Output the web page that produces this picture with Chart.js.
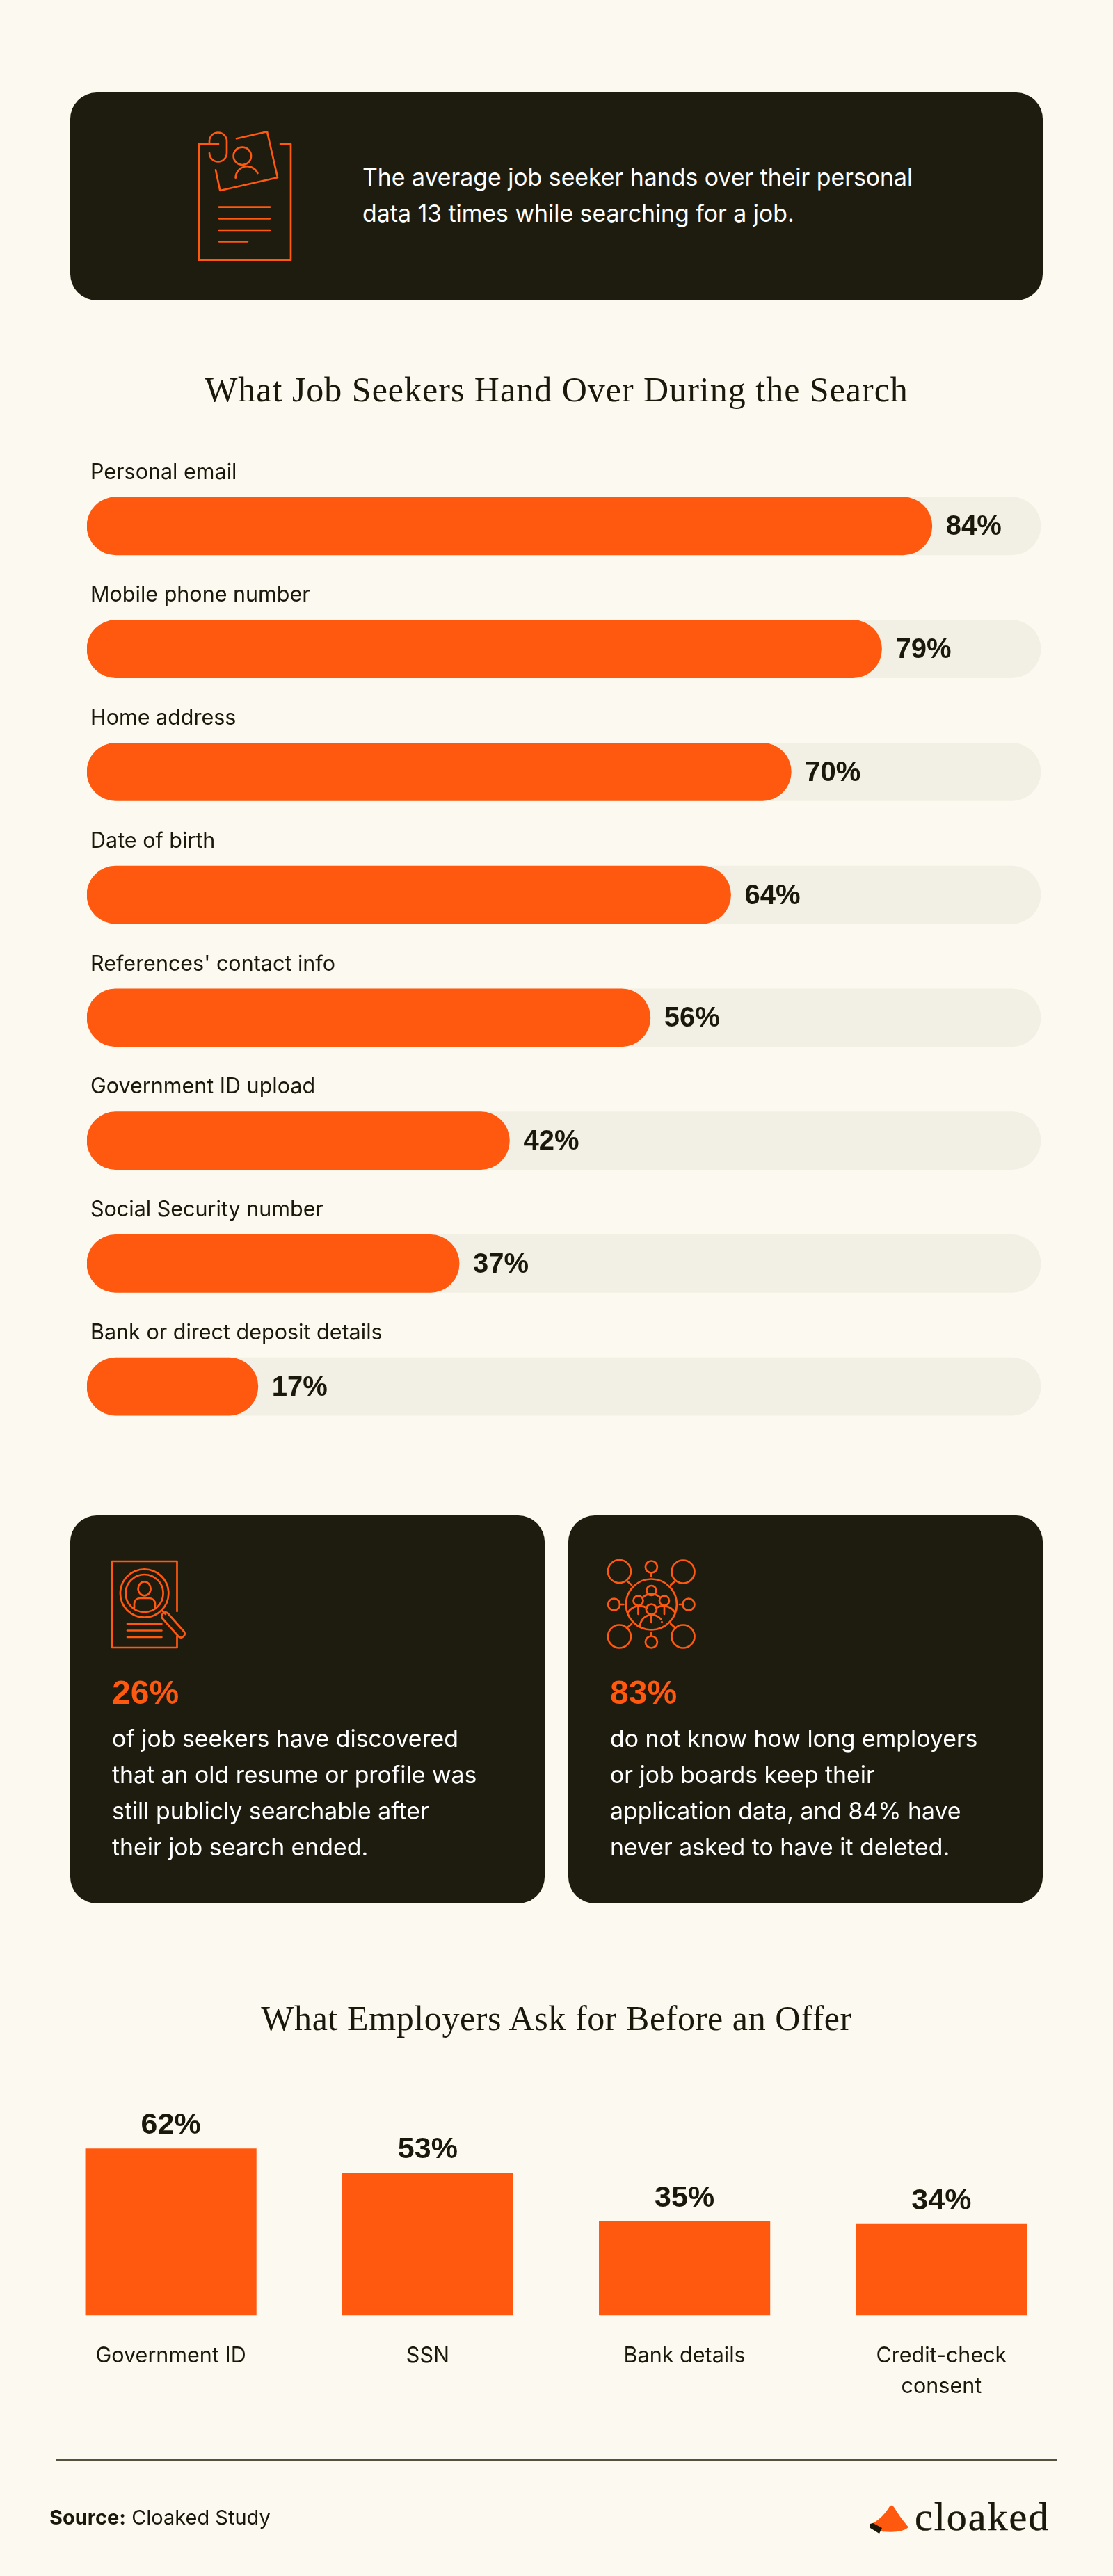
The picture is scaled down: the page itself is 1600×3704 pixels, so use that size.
<!DOCTYPE html>
<html lang="en">
<head>
    <meta charset="UTF-8">
    <title>What Job Seekers Hand Over</title>
    <script src="https://cdn.jsdelivr.net/npm/chart.js"></script>
    <style>
        html, body { margin: 0; padding: 0; background: #fcf9f1; }
        #page { position: relative; width: 1600px; height: 3704px; overflow: hidden; background: #fcf9f1; color: #1a170b; font-family: Inter, sans-serif; }
        #page > * { position: absolute; }
        .card { background: #1e1b0f; border-radius: 38px; }
        .title { left: 0; width: 1600px; text-align: center; font-family: 'Liberation Serif', serif; font-size: 50px; line-height: 60px; white-space: nowrap; }
        .copy { color: #fff; font-size: 33.8px; line-height: 52px; white-space: pre; }
        .big { color: #ff580f; font-family: 'Liberation Sans', sans-serif; font-size: 48px; line-height: 56px; font-weight: bold; }
        .icon { fill: none; stroke: #ff580f; stroke-width: 2.7; stroke-linecap: round; stroke-linejoin: round; }
        canvas { display: block; }
    </style>
</head>
<body>
<div id="page">
    <div class="card" style="left:101px;top:133px;width:1398px;height:299px"></div>
    <svg class="icon" style="left:260px;top:170px" width="200" height="220" viewBox="0 0 200 220">
        <path d="M54 37H26V204H158V37H143"/>
        <path d="M41 37V33A12.5 12.5 0 0 1 66 33V50A12.5 12.5 0 0 1 41 50"/>
        <path d="M80 29.3L124 19.3L139 85.3L56.3 104L50 74.3"/>
        <circle cx="88.3" cy="54.3" r="12.7"/>
        <path d="M78.7 85.7A16.5 16.5 0 0 1 110.3 79"/>
        <path d="M55 127.7H128M55 144.3H128M55 161H128M55 177.3H96"/>
    </svg>
    <div class="copy" style="left:521px;top:229px">The average job seeker hands over their personal
data 13 times while searching for a job.</div>

    <div class="title" style="top:530px;letter-spacing:1px">What Job Seekers Hand Over During the Search</div>
    <canvas id="seekerChart" width="1371" height="1434" style="left:125px;top:648px"></canvas>

    <div class="card" style="left:101px;top:2179px;width:682px;height:558px"></div>
    <div class="card" style="left:817px;top:2179px;width:682px;height:558px"></div>
    <svg class="icon" style="left:0;top:0" width="1600" height="3704" viewBox="0 0 1600 3704">
        <path d="M254.5 2317V2245H161V2369H254.5V2353"/>
        <circle cx="207.6" cy="2291" r="34.7"/>
        <circle cx="207.6" cy="2291" r="27"/>
        <ellipse cx="207.6" cy="2284.4" rx="9" ry="10"/>
        <path d="M193 2312V2306a8 8 0 0 1 8-8h14a8 8 0 0 1 8 8v6"/>
        <path d="M233 2316L238 2321"/>
        <path d="M241 2319.5L265 2346.5A5.5 5.5 0 0 1 257 2353.5L233 2326.5A5.5 5.5 0 0 1 241 2319.5Z"/>
        <path d="M183 2335H232.4M183 2344.5H232.4M183 2354H232.4"/>

        <circle cx="936.4" cy="2307" r="36.5"/>
        <circle cx="890.4" cy="2259.5" r="16.5"/>
        <circle cx="982" cy="2260" r="16.5"/>
        <circle cx="890.4" cy="2353" r="16.5"/>
        <circle cx="982" cy="2353" r="16.5"/>
        <circle cx="936.4" cy="2253" r="8.5"/>
        <circle cx="936.4" cy="2361" r="8.5"/>
        <circle cx="882.6" cy="2307" r="8.5"/>
        <circle cx="990" cy="2307" r="8.5"/>
        <path d="M901 2273L908 2279M971 2273L964.4 2279M908 2335L901 2341M964.4 2335L971 2341"/>
        <path d="M936.4 2262.6V2267M936.4 2347.5V2352M891 2307H896.4M976.8 2307H981.5"/>
        <circle cx="936.4" cy="2287" r="7"/>
        <circle cx="917.5" cy="2301.6" r="7"/>
        <circle cx="955" cy="2301.6" r="7"/>
        <circle cx="936.4" cy="2314" r="7.5"/>
        <path d="M924 2297A18 18 0 0 1 949 2297"/>
        <path d="M903 2318A20 20 0 0 1 930 2312M970 2318A20 20 0 0 0 943 2312"/>
        <path d="M917.5 2311V2321M955 2311V2321"/>
        <path d="M920 2339A17 17 0 0 1 950 2328M936.4 2323V2333"/>
        <path d="M951.5 2332V2332.5"/>
    </svg>
    <div class="big" style="left:161px;top:2406px">26%</div>
    <div class="copy" style="left:161px;top:2474px">of job seekers have discovered
that an old resume or profile was
still publicly searchable after
their job search ended.</div>

    <div class="big" style="left:877px;top:2406px">83%</div>
    <div class="copy" style="left:877px;top:2474px">do not know how long employers
or job boards keep their
application data, and 84% have
never asked to have it deleted.</div>

    <div class="title" style="top:2872px;letter-spacing:0.6px">What Employers Ask for Before an Offer</div>
    <canvas id="employerChart" width="1477" height="482" style="left:61px;top:3000px"></canvas>

    <div style="left:80px;top:3536px;width:1439px;height:2px;background:#55513f"></div>
    <div style="left:71px;top:3600px;font-size:29px;line-height:40px;white-space:nowrap"><b>Source:</b> Cloaked Study</div>

    <svg style="left:1200px;top:3560px" width="120" height="100" viewBox="0 0 120 100">
        <path d="M79 44Q82 41 85 45Q94 60 106 74Q96 83 67 80L53 69Q68 62 79 44Z" fill="#ff580f"/>
        <path d="M51 69L55 68L68 75L64 83L51 75Z" fill="#1a170b"/>
    </svg>
    <div style="left:1315px;top:3589px;font-family:'Liberation Serif',serif;font-size:58px;line-height:60px;letter-spacing:2px;-webkit-text-stroke:0.5px #1a170b;white-space:nowrap">cloaked</div>
</div>

<script>
    // Chart data
    const seekerCategories = ['Personal email', 'Mobile phone number', 'Home address', 'Date of birth',
        "References' contact info", 'Government ID upload', 'Social Security number', 'Bank or direct deposit details'];
    const seekerValues = [84, 79, 70, 64, 56, 42, 37, 17];
    const seekerTrack = [94.8, 94.8, 94.8, 94.8, 94.8, 94.8, 94.8, 94.8];

    const employerCategories = ['Government ID', 'SSN', 'Bank details', ['Credit-check', 'consent']];
    const employerValues = [62, 53, 35, 34];

    const ORANGE = '#ff580f';
    const TRACK = '#f2efe4';
    const INK = '#1a170b';
    const SANS = "Inter, sans-serif";
    const NUMBERS = "'Liberation Sans', sans-serif";

    Chart.defaults.font.family = SANS;
    Chart.defaults.color = INK;

    // Writes the "84%" labels next to the bars
    const valueLabels = {
        id: 'valueLabels',
        afterDatasetsDraw(chart, args, opts) {
            const ctx = chart.ctx;
            const bars = chart.getDatasetMeta(0).data;
            ctx.save();
            ctx.fillStyle = INK;
            ctx.font = 'bold ' + opts.size + 'px ' + NUMBERS;
            bars.forEach((bar, i) => {
                const text = chart.data.datasets[0].data[i] + '%';
                if (opts.horizontal) {
                    ctx.textAlign = 'left';
                    ctx.textBaseline = 'middle';
                    ctx.fillText(text, bar.x + opts.gap, bar.y + 2);
                } else {
                    ctx.textAlign = 'center';
                    ctx.textBaseline = 'alphabetic';
                    ctx.fillText(text, bar.x, bar.y - opts.gap);
                }
            });
            ctx.restore();
        }
    };

    new Chart(document.getElementById('seekerChart'), {
        type: 'bar',
        data: {
            labels: seekerCategories,
            datasets: [
                { data: seekerValues, backgroundColor: ORANGE, borderRadius: 42, borderSkipped: false, barThickness: 83 },
                { data: seekerTrack, backgroundColor: TRACK, borderRadius: 42, borderSkipped: false, barThickness: 83 }
            ]
        },
        options: {
            indexAxis: 'y',
            responsive: false,
            animation: false,
            devicePixelRatio: 1,
            layout: { padding: { top: 20 } },
            plugins: {
                legend: { display: false },
                tooltip: { enabled: false },
                valueLabels: { horizontal: true, size: 40, gap: 20 }
            },
            scales: {
                x: { display: false, min: 0, max: 94.8 },
                y: {
                    grid: { display: false },
                    border: { display: false },
                    ticks: { mirror: true, padding: 5, labelOffset: -77, color: INK, font: { size: 30.5 } },
                    // labels sit inside the plot, so the axis takes no room
                    afterFit(scale) {
                        scale.width = 0;
                        scale.paddingTop = 0;
                        scale.paddingBottom = 0;
                    }
                }
            },
            datasets: { bar: { grouped: false } }
        },
        plugins: [valueLabels]
    });

    new Chart(document.getElementById('employerChart'), {
        type: 'bar',
        data: {
            labels: employerCategories,
            datasets: [
                { data: employerValues, backgroundColor: ORANGE, barPercentage: 0.6667, categoryPercentage: 1 }
            ]
        },
        options: {
            responsive: false,
            animation: false,
            devicePixelRatio: 1,
            layout: { padding: 0 },
            plugins: {
                legend: { display: false },
                tooltip: { enabled: false },
                valueLabels: { horizontal: false, size: 43, gap: 21 }
            },
            scales: {
                x: {
                    grid: { display: false },
                    border: { display: false },
                    ticks: { maxRotation: 0, padding: 28, color: INK, font: { size: 30.5, lineHeight: 1.45 } }
                },
                y: { display: false, min: 0, max: 85 }
            }
        },
        plugins: [valueLabels]
    });
</script>
</body>
</html>
